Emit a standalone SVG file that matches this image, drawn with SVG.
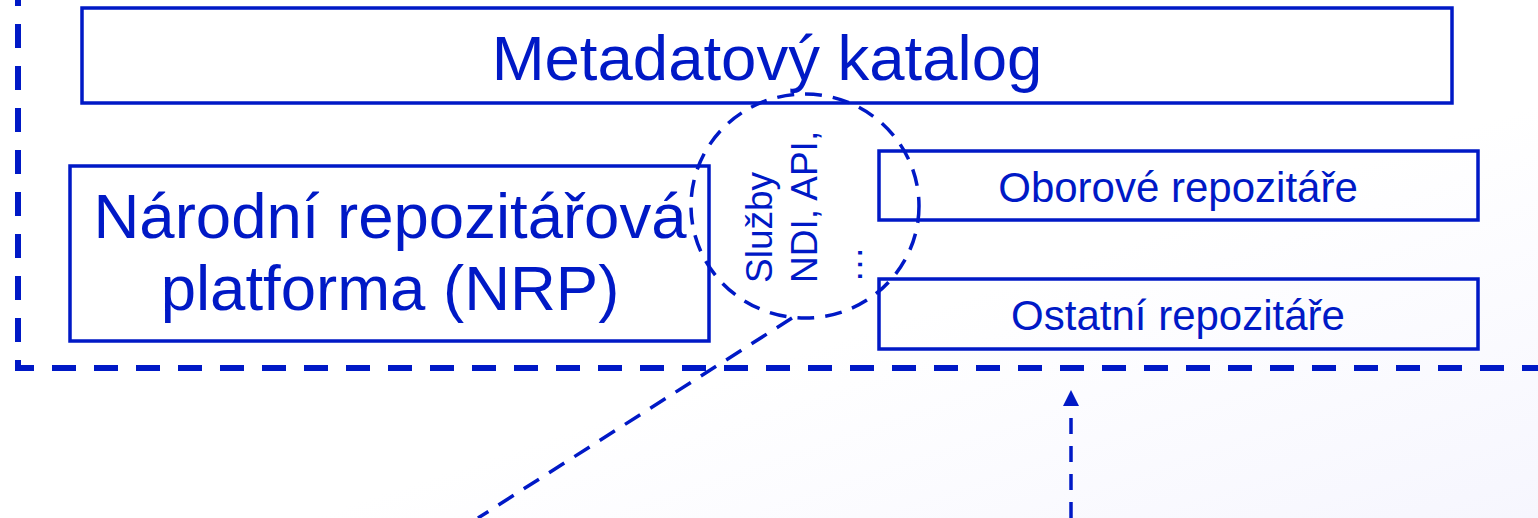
<svg xmlns="http://www.w3.org/2000/svg" width="1538" height="518" viewBox="0 0 1538 518">
<defs>
<style>
.box{fill:none;stroke:#0019c6;stroke-width:3.5}
.t{font-family:"Liberation Sans",Arial,sans-serif;fill:#0019c6}
.dash{fill:none;stroke:#0019c6}
</style>
<linearGradient id="bg" x1="0" y1="0" x2="1" y2="1">
<stop offset="0.6" stop-color="#ffffff"/>
<stop offset="1" stop-color="#f6f6fe"/>
</linearGradient>
</defs>
<rect width="1538" height="518" fill="url(#bg)"/>
<g id="connectors">
<path class="dash" d="M18,0 V368 H1540" stroke-width="6" stroke-dasharray="24 18" stroke-dashoffset="18"/>
<path class="dash" d="M792,318 L478,518" stroke-width="3.5" stroke-dasharray="18 12"/>
<path class="dash" d="M1071,518 V406" stroke-width="3.5" stroke-dasharray="16 12"/>
<path d="M1063,406 L1071,390 L1079,406 Z" fill="#0019c6"/>
</g>
<g id="metadata">
<rect class="box" x="82" y="8" width="1370" height="95"/>
<text class="t" x="767" y="80" font-size="63.5" text-anchor="middle">Metadatový katalog</text>
</g>
<g id="nrp">
<rect class="box" x="70" y="166" width="639" height="175"/>
<text class="t" x="390" y="238" font-size="63.5" text-anchor="middle">Národní repozitářová</text>
<text class="t" x="390" y="310" font-size="63.5" text-anchor="middle">platforma (NRP)</text>
</g>
<g id="oborove">
<rect class="box" x="879" y="151" width="599" height="69"/>
<text class="t" x="1178" y="202" font-size="42" text-anchor="middle">Oborové repozitáře</text>
</g>
<g id="ostatni">
<rect class="box" x="879" y="279" width="599" height="70"/>
<text class="t" x="1178" y="330" font-size="42" text-anchor="middle">Ostatní repozitáře</text>
</g>
<g id="sluzby">
<ellipse cx="805" cy="206" rx="114" ry="112" fill="none" stroke="#0019c6" stroke-width="3.5" stroke-dasharray="17 11"/>
<text class="t" font-size="37" transform="translate(772,283) rotate(-90)">Služby</text>
<text class="t" font-size="37" transform="translate(817,283) rotate(-90)">NDI, API,</text>
<text class="t" font-size="37" transform="translate(862,283) rotate(-90)">…</text>
</g>
</svg>
